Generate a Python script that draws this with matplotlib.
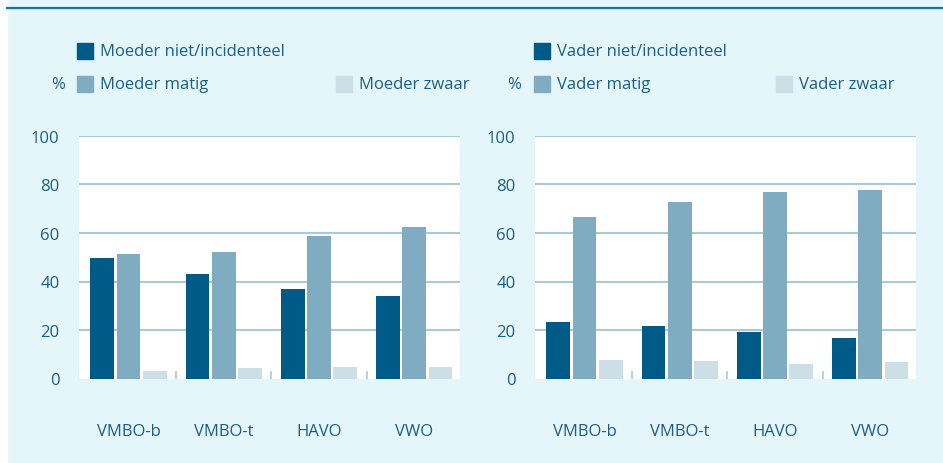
import matplotlib
matplotlib.use("Agg")
import matplotlib.pyplot as plt
from matplotlib.patches import Rectangle
from matplotlib.lines import Line2D
import numpy as np

categories = ["VMBO-b", "VMBO-t", "HAVO", "VWO"]
moeder_niet = [49.7, 43.1, 36.9, 34.0]
moeder_matig = [51.3, 52.2, 58.8, 62.5]
moeder_zwaar = [3.1, 4.3, 4.7, 4.7]
vader_niet = [23.5, 21.8, 19.3, 16.5]
vader_matig = [66.7, 72.8, 77.0, 77.8]
vader_zwaar = [7.8, 7.4, 5.8, 6.6]
moeder_labels = ["Moeder niet/incidenteel", "Moeder matig", "Moeder zwaar"]
vader_labels = ["Vader niet/incidenteel", "Vader matig", "Vader zwaar"]
yticks = [0, 20, 40, 60, 80, 100]

W, H = 943, 464
BG = "#E5F6FA"
TXT = "#1B5E86"
COLS = ["#005A87", "#80ACC2", "#CCDEE6"]
GRID = "#A9CADA"
FONT = ["Open Sans", "DejaVu Sans"]
FS = 12
plt.rcParams["font.family"] = FONT

fig = plt.figure(figsize=(W / 100, H / 100), dpi=100)
fig.patch.set_facecolor(BG)

def px(x0, y0, x1, y1):
    return [x0 / W, 1 - y1 / H, (x1 - x0) / W, (y1 - y0) / H]

# white strip at left and top rule
fig.patches.append(Rectangle((0, 0), 7 / W, 1, transform=fig.transFigure, color="white", zorder=0))
fig.add_artist(Line2D([7 / W, 1], [1 - 8.5 / H, 1 - 8.5 / H], transform=fig.transFigure, color="#1F6F9C", lw=1.6))
fig.add_artist(Line2D([7 / W, 1], [1 - 10 / H, 1 - 10 / H], transform=fig.transFigure, color="#B5DCEA", lw=0.8))

def panel(x0, x1, series, labels, legend_x, pct_x, zwaar_x):
    ax = fig.add_axes(px(x0, 137, x1, 379.5))
    ax.set_facecolor("white")
    x = np.arange(len(categories))
    offs = [-0.275, 0.0, 0.275]
    for s, o, c in zip(series, offs, COLS):
        ax.bar(x + o, s, width=0.25, color=c, zorder=3, linewidth=0)
    ax.set_xlim(-0.52, 3.48)
    ax.set_ylim(0, 100)
    ax.set_yticks(yticks)
    ax.set_yticklabels([str(v) for v in yticks])
    ax.set_xticks(x)
    ax.set_xticklabels(categories)
    ax.set_xticks([0.5, 1.5, 2.5], minor=True)
    ax.tick_params(axis="x", which="major", length=0, pad=38, labelsize=FS, labelcolor=TXT)
    ax.tick_params(axis="x", which="minor", direction="in", length=6, width=1.2, color=GRID)
    ax.tick_params(axis="y", length=0, pad=14, labelsize=FS, labelcolor=TXT)
    for lab in ax.get_xticklabels():
        lab.set_va("center")
    for sp in ax.spines.values():
        sp.set_visible(False)
    for v in yticks[1:]:
        ax.axhline(v, color=GRID, lw=1.5, zorder=1)
    # legend
    sq = 16
    rows = [(legend_x, 44), (legend_x, 77), (zwaar_x, 77)]
    for (lx, ly), lab, c in zip(rows, labels, COLS):
        fig.patches.append(Rectangle((lx / W, 1 - (ly + sq) / H), sq / W, sq / H,
                                     transform=fig.transFigure, color=c))
        fig.text((lx + sq + 7) / W, 1 - (ly + sq / 2 + 0.5) / H, lab, fontsize=FS, color=TXT,
                 va="center", ha="left")
    fig.text(pct_x / W, 1 - 85.5 / H, "%", fontsize=FS, color=TXT, va="center", ha="left")
    return ax

panel(79, 460, [moeder_niet, moeder_matig, moeder_zwaar], moeder_labels, 77, 51, 336)
panel(535, 916, [vader_niet, vader_matig, vader_zwaar], vader_labels, 534, 507, 776)

fig.savefig("out.png", dpi=100, facecolor=BG)
